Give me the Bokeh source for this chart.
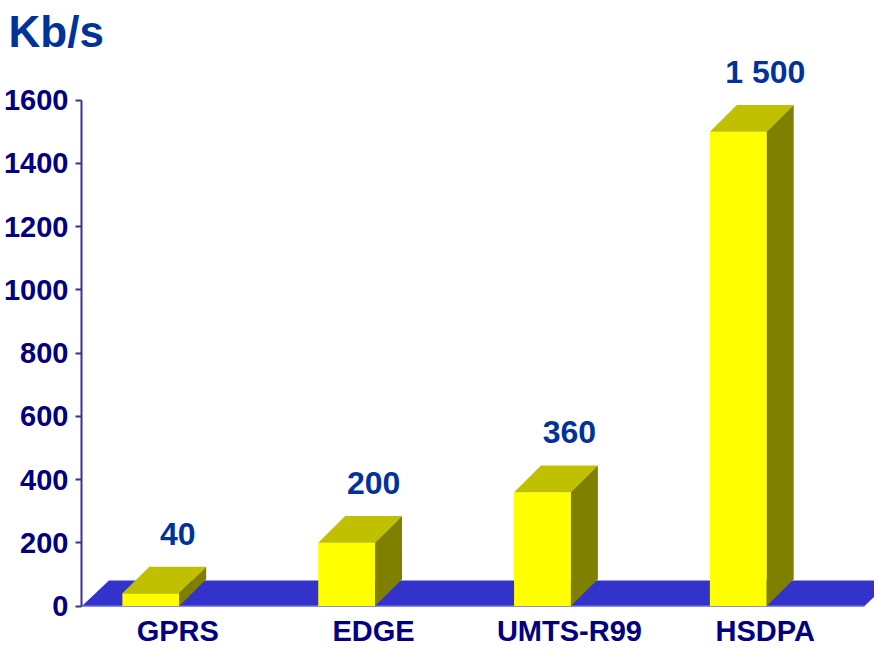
import numpy as np
from bokeh.plotting import figure
from bokeh.models import Range1d, FixedTicker, ColumnDataSource
from bokeh.core.properties import value
from bokeh.embed import file_html
from bokeh.resources import INLINE

# ---- data ----
categories = ["GPRS", "EDGE", "UMTS-R99", "HSDPA"]
speeds = [40, 200, 360, 1500]
speed_labels = ["40", "200", "360", "1 500"]
y_ticks = [0, 200, 400, 600, 800, 1000, 1200, 1400, 1600]
unit_label = "Kb/s"

FONT = "Liberation Sans"
NAVY = "#000080"
BLUE = "#003399"

W, H = 874, 649
LEFT = 79
TOP = 52
ZERO_PX = 605      # frame-independent pixel row (figure coords) of value 0
TOPTICK_PX = 93    # pixel row of value 1600
px_per_unit_y = (ZERO_PX - TOPTICK_PX) / 1600.0
px_per_cat = 196.33
first_center_px = 69.5  # from frame left

x0 = -first_center_px / px_per_cat
x1 = x0 + (W - LEFT) / px_per_cat
y1 = (ZERO_PX - TOP) / px_per_unit_y
y0 = -(H - ZERO_PX) / px_per_unit_y

p = figure(width=W, height=H, output_backend="svg", toolbar_location=None,
           title=unit_label,
           x_range=Range1d(x0, x1), y_range=Range1d(y0, y1),
           min_border_left=LEFT, min_border_right=0, min_border_top=TOP,
           min_border_bottom=0, x_axis_location=None)
p.outline_line_color = None
p.grid.visible = False
p.background_fill_color = "white"
p.border_fill_color = "white"

t = p.title
t.align = "left"
t.offset = -73
t.standoff = 8
t.text_font = FONT
t.text_font_style = "bold"
t.text_font_size = "44px"
t.text_color = BLUE

# depth of the 3D effect
dpx = 27
dx = dpx / px_per_cat
dy = dpx / px_per_unit_y
bw = 57 / px_per_cat

n = len(categories)
xs = np.arange(n, dtype=float)
vals = np.array(speeds, dtype=float)

# floor
fl = x0 + 0.5 / px_per_cat
fr = (872 - 87 - first_center_px) / px_per_cat
p.patch([fl, fr, fr + dx, fl + dx], [0, 0, dy * 0.96, dy * 0.96],
        fill_color="#3333CC", line_color=None)
p.line([fl, fr], [0, 0], line_color="#6666DD", line_width=1.5)

# bars
src = ColumnDataSource(dict(
    left=xs - bw / 2, right=xs + bw / 2, top=vals, bottom=np.zeros(n),
    top_xs=[[x - bw / 2, x + bw / 2, x + bw / 2 + dx, x - bw / 2 + dx] for x in xs],
    top_ys=[[v, v, v + dy, v + dy] for v in vals],
    side_xs=[[x + bw / 2, x + bw / 2 + dx, x + bw / 2 + dx, x + bw / 2] for x in xs],
    side_ys=[[0, dy, v + dy, v] for v in vals],
    lx=xs + dx, ly=vals + dy, lab=speed_labels, cat=categories,
    zero=np.zeros(n),
))
p.quad(left="left", right="right", top="top", bottom="bottom", source=src,
       fill_color="#FFFF00", line_color=None)
p.patches("top_xs", "top_ys", source=src, fill_color="#C0C000", line_color=None)
p.patches("side_xs", "side_ys", source=src, fill_color="#808000", line_color=None)

# value labels
p.text(x="lx", y="ly", text="lab", source=src, text_align="center",
       text_baseline="alphabetic", y_offset=-33, text_color=BLUE,
       text_font=value(FONT), text_font_style="bold", text_font_size="32px")

# category labels
p.text(x="lx", y="zero", text="cat", source=src, text_align="center",
       text_baseline="alphabetic", y_offset=25, text_color=NAVY,
       text_font=value(FONT), text_font_style="bold", text_font_size="29px")

# y axis
ax = p.yaxis[0]
ax.ticker = FixedTicker(ticks=y_ticks)
ax.bounds = (0, 1600)
ax.major_tick_out = 6
ax.major_tick_in = 0
ax.minor_tick_out = 0
ax.minor_tick_in = 0
ax.axis_line_color = "#333399"
ax.axis_line_width = 2
ax.major_tick_line_color = "#333399"
ax.major_tick_line_width = 2
ax.major_label_standoff = 7
ax.major_label_text_font = FONT
ax.major_label_text_font_style = "bold"
ax.major_label_text_font_size = "29px"
ax.major_label_text_color = NAVY

open("out.html", "w").write(file_html(p, INLINE))
